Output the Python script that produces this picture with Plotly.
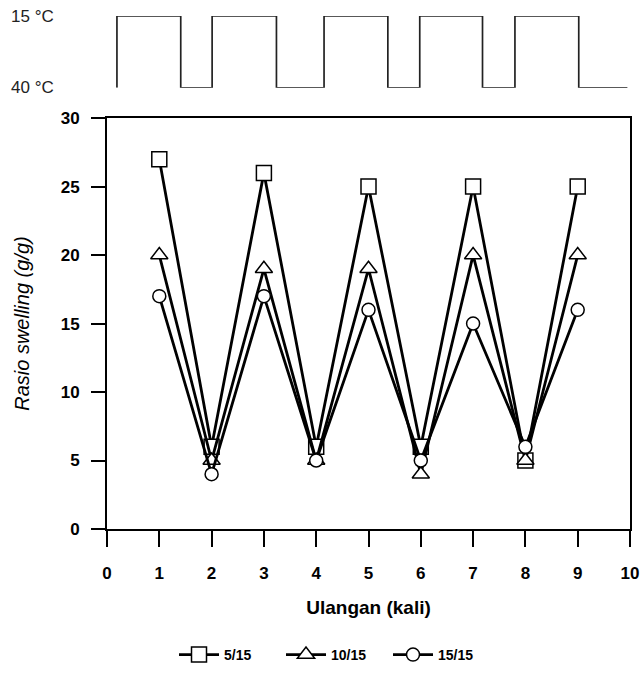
import plotly.graph_objects as go

# Data
ulangan = [1, 2, 3, 4, 5, 6, 7, 8, 9]
s_5_15 = [27, 6, 26, 6, 25, 6, 25, 5, 25]
s_10_15 = [20, 5, 19, 5, 19, 4, 20, 5, 20]
s_15_15 = [17, 4, 17, 5, 16, 5, 15, 6, 16]
series_names = ["5/15", "10/15", "15/15"]

# Temperature cycle (top square wave): x positions of changes, level 1 = 15 °C, 0 = 40 °C
wave_x = [0.19, 0.19, 1.41, 2.01, 3.24, 4.15, 5.37, 5.98, 7.18, 7.80, 9.02, 9.95]
wave_level = [0, 1, 0, 1, 0, 1, 0, 1, 0, 1, 0, 0]
temp_labels = ["15 \u00b0C", "40 \u00b0C"]

x_ticks = list(range(0, 11))
y_ticks = [0, 5, 10, 15, 20, 25, 30]

fig = go.Figure()

symbols = ["square", "triangle-up", "circle"]
sizes = [15, 15, 13]
for name, vals, sym, sz in zip(series_names, [s_5_15, s_10_15, s_15_15], symbols, sizes):
    fig.add_trace(go.Scatter(
        x=ulangan, y=vals, name=name, mode="lines+markers",
        line=dict(color="black", width=2.8),
        marker=dict(symbol=sym, size=sz, color="white",
                    line=dict(color="black", width=1.5)),
    ))

fig.add_trace(go.Scatter(
    x=wave_x, y=wave_level, mode="lines", line=dict(color="#222", width=1.7, shape="hv"),
    xaxis="x", yaxis="y2", showlegend=False, hoverinfo="skip",
))

axis_font = dict(family="Liberation Sans, Arial", size=17, color="black", weight="bold")

fig.update_layout(
    width=643, height=673,
    margin=dict(l=107, r=13, t=16, b=144, autoexpand=False),
    plot_bgcolor="white", paper_bgcolor="white",
    xaxis=dict(range=[0, 10], tickvals=x_ticks, ticks="outside", ticklen=16, tickwidth=2,
               tickcolor="black", showline=True, linecolor="black", linewidth=2, mirror=True,
               showgrid=False, zeroline=False, tickfont=axis_font, automargin=False,
               ticklabelstandoff=12, ticklabeloverflow="allow",
               title=dict(text="Ulangan (kali)", standoff=18,
                          font=dict(family="Liberation Sans, Arial", size=19, color="black", weight="bold"))),
    yaxis=dict(domain=[0, 0.801], range=[0, 30], tickvals=y_ticks, ticks="outside", ticklen=14,
               tickwidth=2, tickcolor="black", showline=True, linecolor="black", linewidth=2,
               mirror=True, showgrid=False, zeroline=False, tickfont=axis_font, automargin=False,
               ticklabelstandoff=8,
               title=dict(text="<i>Rasio swelling (g/g)</i>", standoff=26,
                          font=dict(family="Liberation Sans, Arial", size=20, color="black"))),
    yaxis2=dict(domain=[0.86, 1.0], range=[0, 1], visible=False, anchor="x"),
    legend=dict(orientation="h", x=0.435, xanchor="center", y=-0.2456, yanchor="middle",
                font=dict(family="Liberation Sans, Arial", size=14, color="black", weight="bold"),
                itemwidth=40, entrywidth=52, bgcolor="rgba(0,0,0,0)"),
    showlegend=True,
)

for lbl, lvl in zip(temp_labels, [1, 0]):
    fig.add_annotation(text=lbl, xref="paper", yref="y2", x=-0.187, y=lvl, xanchor="left",
                       yanchor="middle", showarrow=False,
                       font=dict(family="Liberation Sans, Arial", size=17, color="#222"))

fig.write_html("out.html", config={"displayModeBar": False},
               post_script="document.body.style.margin='0';document.body.style.overflow='hidden';")
